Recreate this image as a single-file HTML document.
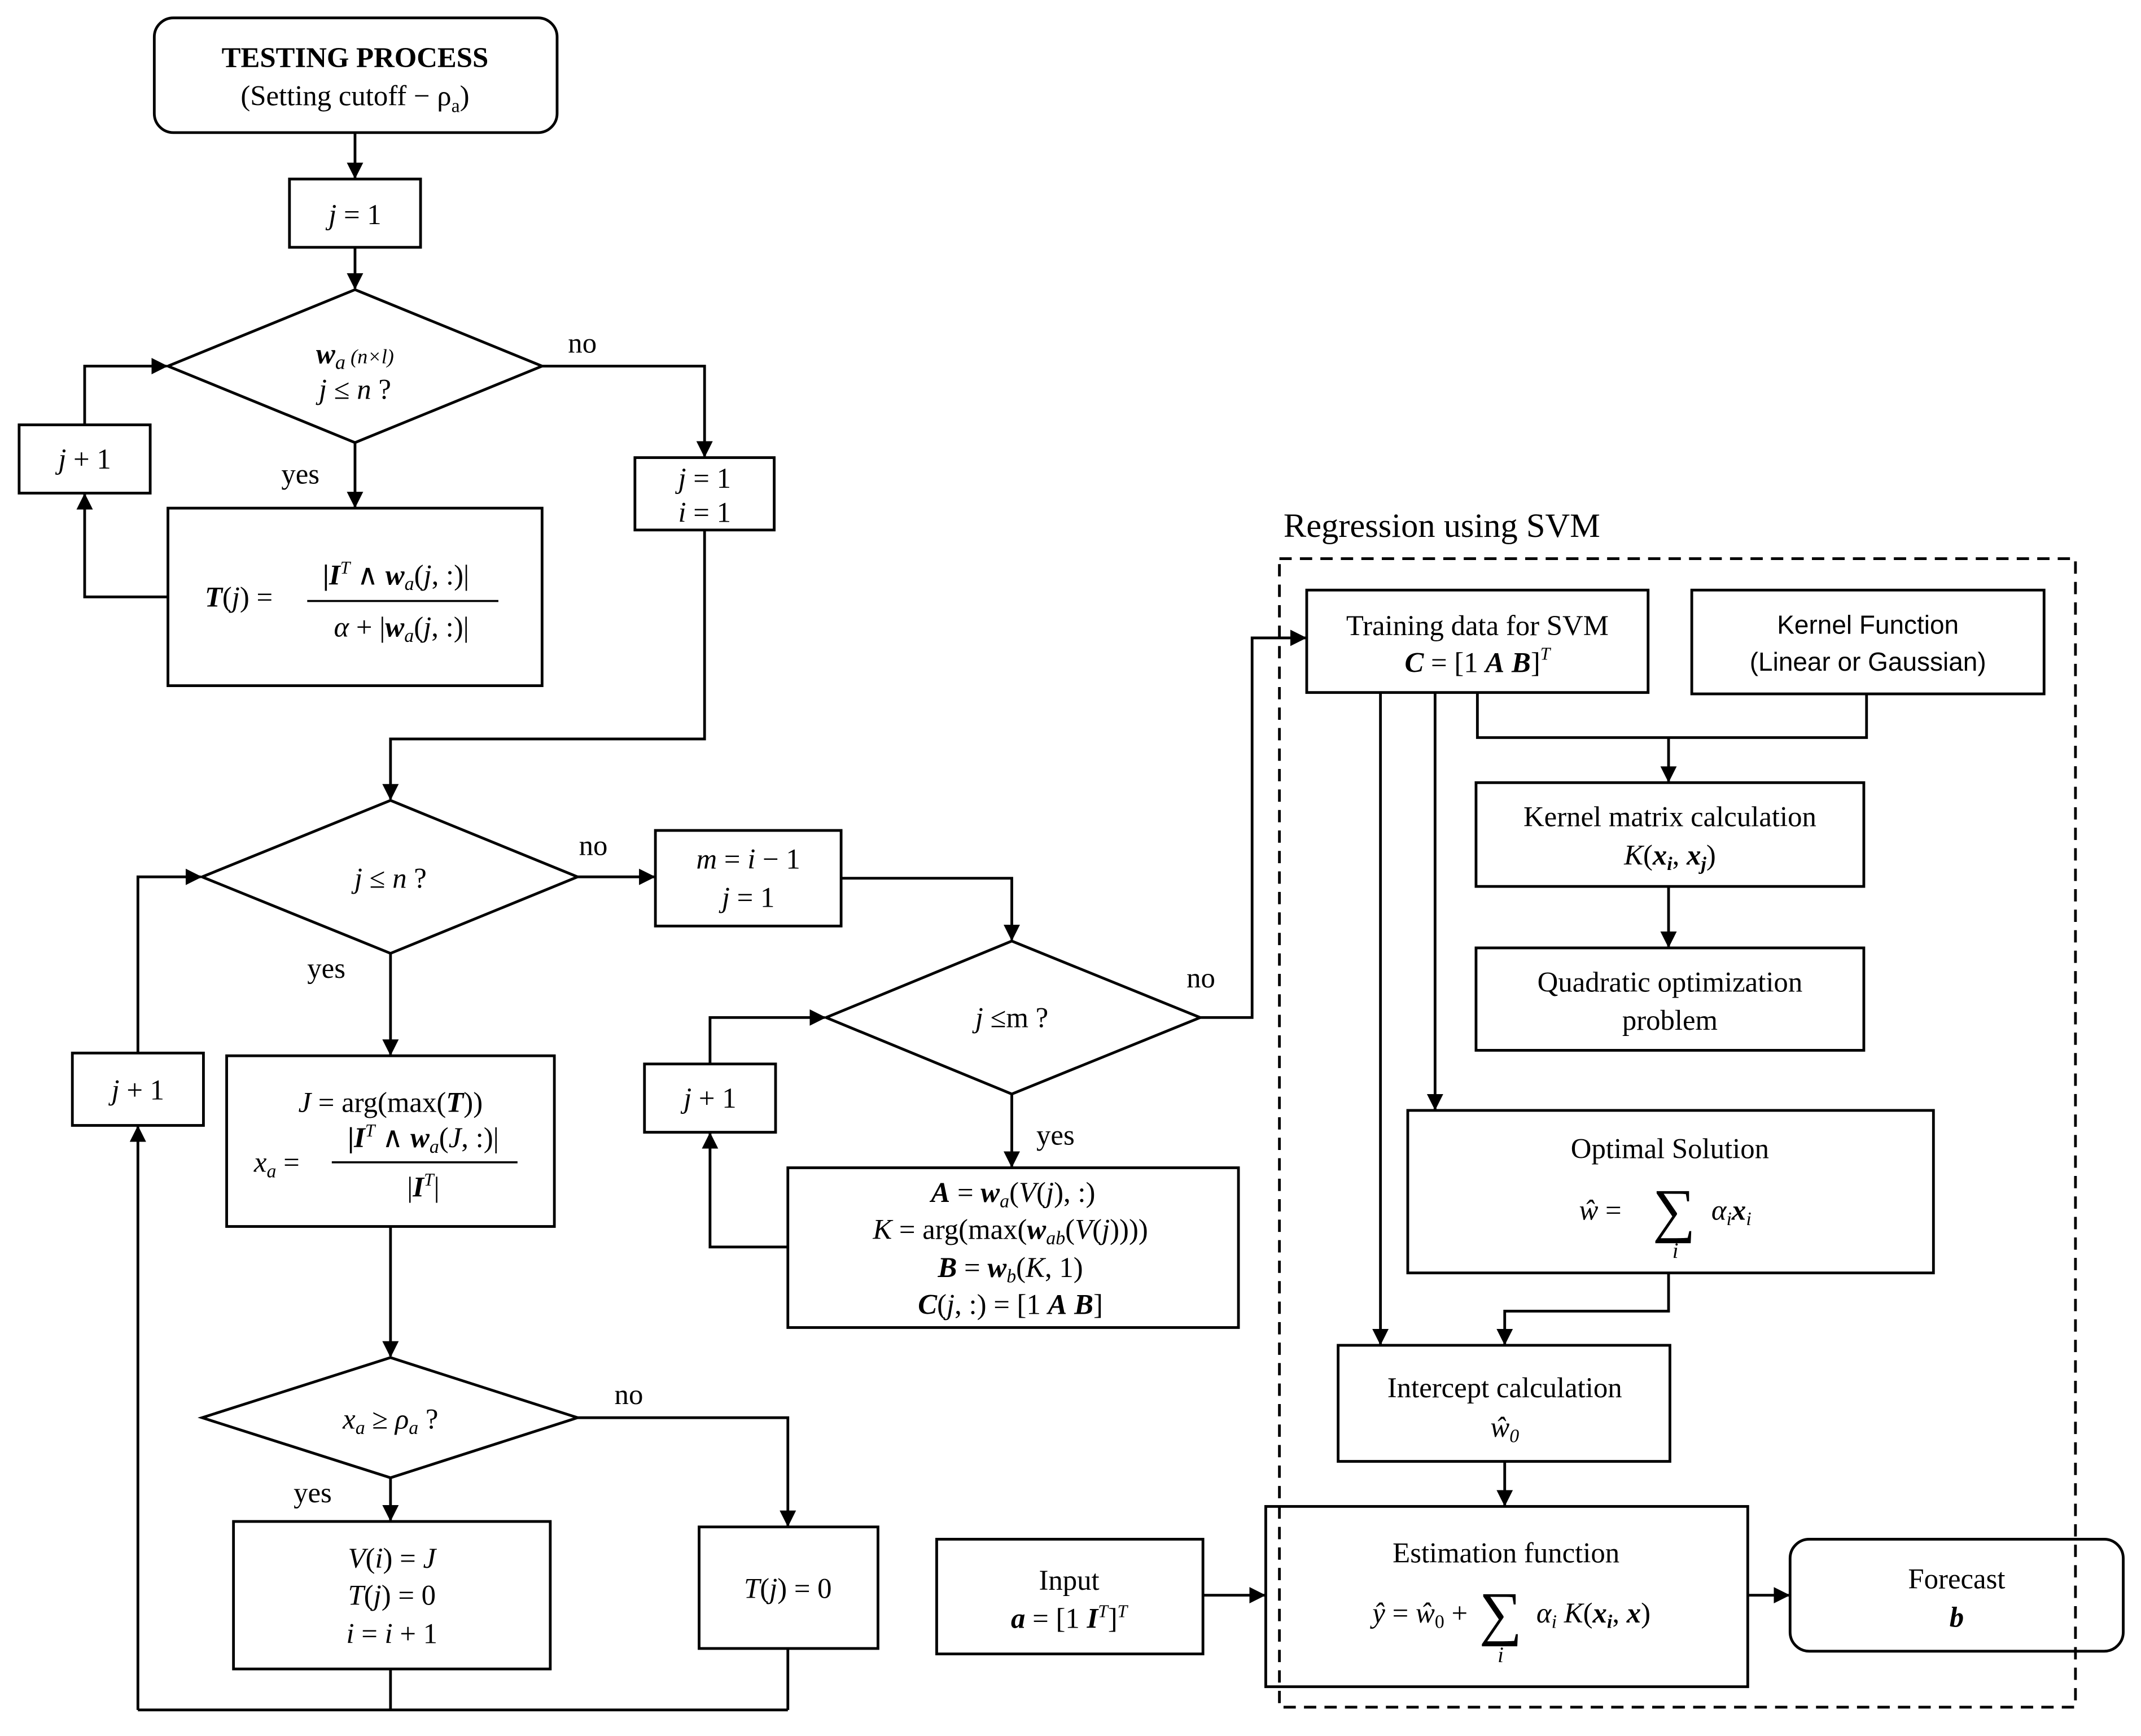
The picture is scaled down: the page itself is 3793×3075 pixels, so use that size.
<!DOCTYPE html>
<html><head><meta charset="utf-8"><style>
html,body{margin:0;padding:0;background:#fff;}
svg{display:block;}
text{font-family:"Liberation Serif","DejaVu Serif",serif;font-size:21px;fill:#000;}
.s{font-family:"Liberation Sans","DejaVu Sans",sans-serif;font-size:19px;}
.i{font-style:italic;}
.b{font-weight:bold;}
.sum{font-size:44px;}
.sub{font-size:16px;}
</style></head><body>
<svg width="3793" height="3075" viewBox="0 0 1568 1271" xmlns="http://www.w3.org/2000/svg">
<defs><marker id="a" markerWidth="12" markerHeight="12" refX="11" refY="6" orient="auto" markerUnits="userSpaceOnUse"><path d="M0,0 L12,6 L0,12 z" fill="#000"/></marker></defs>
<g fill="none" stroke="#000" stroke-width="2">
<rect x="113" y="13" width="295" height="84" rx="14"/>
<rect x="212" y="131" width="96" height="50"/>
<polygon points="123,268 260,212 397,268 260,324"/>
<rect x="14" y="311" width="96" height="50"/>
<rect x="123" y="372" width="274" height="130"/>
<rect x="465" y="335" width="102" height="53"/>
<polygon points="148,642 286,586 423,642 286,698"/>
<rect x="480" y="608" width="136" height="70"/>
<polygon points="605,745 741,689 879,745 741,801"/>
<rect x="472" y="779" width="96" height="50"/>
<rect x="577" y="855" width="330" height="117"/>
<rect x="166" y="773" width="240" height="125"/>
<rect x="53" y="771" width="96" height="53"/>
<polygon points="148,1038 286,994 423,1038 286,1082"/>
<rect x="171" y="1114" width="232" height="108"/>
<rect x="512" y="1118" width="131" height="89"/>
<rect x="937" y="409" width="583" height="841" stroke-dasharray="9,6"/>
<rect x="957" y="432" width="250" height="75"/>
<rect x="1239" y="432" width="258" height="76"/>
<rect x="1081" y="573" width="284" height="76"/>
<rect x="1081" y="694" width="284" height="75"/>
<rect x="1031" y="813" width="385" height="119"/>
<rect x="980" y="985" width="243" height="85"/>
<rect x="927" y="1103" width="353" height="132"/>
<rect x="686" y="1127" width="195" height="84"/>
<rect x="1311" y="1127" width="244" height="82" rx="14"/>
</g>
<g fill="none" stroke="#000" stroke-width="2" marker-end="url(#a)">
<path d="M260,97 V130"/>
<path d="M260,181 V211"/>
<path d="M397,268 H516 V334"/>
<path d="M62,311 V268 H122"/>
<path d="M260,324 V371"/>
<path d="M123,437 H62 V362"/>
<path d="M516,388 V541 H286 V585"/>
<path d="M423,642 H479"/>
<path d="M616,643 H741 V688"/>
<path d="M879,745 H917 V467 H956"/>
<path d="M520,779 V745 H604"/>
<path d="M741,801 V854"/>
<path d="M577,913 H520 V830"/>
<path d="M286,698 V772"/>
<path d="M101,771 V642 H147"/>
<path d="M286,898 V993"/>
<path d="M423,1038 H577 V1117"/>
<path d="M286,1082 V1113"/>
<path d="M101,1252 V825"/>
<path d="M1082,507 V540 H1367 V508 M1222,540 V572"/>
<path d="M1222,649 V693"/>
<path d="M1051,507 V812"/>
<path d="M1011,507 V984"/>
<path d="M1222,932 V960 H1102 V984"/>
<path d="M1102,1070 V1102"/>
<path d="M881,1168 H926"/>
<path d="M1280,1168 H1310"/>
</g>
<path d="M286,1222 V1252 M577,1207 V1252 M101,1252 H577" fill="none" stroke="#000" stroke-width="2"/>
<g text-anchor="middle">
<text x="260" y="49" class="b">TESTING PROCESS</text>
<text x="260" y="77">(Setting cutoff − ρ<tspan font-size="14" dy="5">a</tspan><tspan dy="-5">)</tspan></text>
<text x="260" y="164"><tspan class="i">j</tspan> = 1</text>
<text x="260" y="266"><tspan class="b i">w</tspan><tspan class="i" font-size="15" dy="4">a</tspan><tspan class="i" font-size="15" dy="-4"> (n×l)</tspan></text>
<text x="260" y="292"><tspan class="i">j</tspan> ≤ <tspan class="i">n</tspan>  ?</text>
<text x="62" y="343"><tspan class="i">j</tspan> + 1</text>
<text x="290" y="428"><tspan class="b">|<tspan class="i">I</tspan></tspan><tspan font-size="13" dy="-8" class="i">T</tspan><tspan dy="8"> ∧ </tspan><tspan class="b i">w</tspan><tspan font-size="14" class="i" dy="4">a</tspan><tspan dy="-4">(<tspan class="i">j</tspan>, :)|</tspan></text>
<text x="294" y="466"><tspan class="i">α</tspan> + |<tspan class="b i">w</tspan><tspan font-size="14" class="i" dy="4">a</tspan><tspan dy="-4">(<tspan class="i">j</tspan>, :)|</tspan></text>
<text x="516" y="357"><tspan class="i">j</tspan> = 1</text>
<text x="516" y="382"><tspan class="i">i</tspan> = 1</text>
<text x="286" y="650"><tspan class="i">j</tspan> ≤ <tspan class="i">n</tspan> ?</text>
<text x="548" y="636"><tspan class="i">m</tspan> = <tspan class="i">i</tspan> − 1</text>
<text x="548" y="664"><tspan class="i">j</tspan> = 1</text>
<text x="741" y="752"><tspan class="i">j</tspan> ≤m  ?</text>
<text x="520" y="811"><tspan class="i">j</tspan> + 1</text>
<text x="101" y="805"><tspan class="i">j</tspan> + 1</text>
<text x="742" y="880"><tspan class="b i">A</tspan> = <tspan class="b i">w</tspan><tspan font-size="14" class="i" dy="4">a</tspan><tspan dy="-4">(<tspan class="i">V</tspan>(<tspan class="i">j</tspan>), :)</tspan></text>
<text x="740" y="907"><tspan class="i">K</tspan> = arg(max(<tspan class="b i">w</tspan><tspan font-size="14" class="i" dy="4">ab</tspan><tspan dy="-4">(<tspan class="i">V</tspan>(<tspan class="i">j</tspan>))))</tspan></text>
<text x="740" y="935"><tspan class="b i">B</tspan> = <tspan class="b i">w</tspan><tspan font-size="14" class="i" dy="4">b</tspan><tspan dy="-4">(<tspan class="i">K</tspan>, 1)</tspan></text>
<text x="740" y="962"><tspan class="b i">C</tspan>(<tspan class="i">j</tspan>, :) = [1  <tspan class="b i">A</tspan>  <tspan class="b i">B</tspan>]</text>
<text x="286" y="814"><tspan class="i">J</tspan> = arg(max(<tspan class="b i">T</tspan>))</text>
<text x="310" y="840"><tspan class="b">|<tspan class="i">I</tspan></tspan><tspan font-size="13" dy="-8" class="i">T</tspan><tspan dy="8"> ∧ </tspan><tspan class="b i">w</tspan><tspan font-size="14" class="i" dy="4">a</tspan><tspan dy="-4">(<tspan class="i">J</tspan>, :)|</tspan></text>
<text x="310" y="876">|<tspan class="b i">I</tspan><tspan font-size="13" dy="-8" class="i">T</tspan><tspan dy="8">|</tspan></text>
<text x="286" y="1046"><tspan class="i">x</tspan><tspan font-size="14" class="i" dy="4">a</tspan><tspan dy="-4"> ≥ </tspan><tspan class="i">ρ</tspan><tspan font-size="14" class="i" dy="4">a</tspan><tspan dy="-4"> ?</tspan></text>
<text x="287" y="1148"><tspan class="i">V</tspan>(<tspan class="i">i</tspan>) = <tspan class="i">J</tspan></text>
<text x="287" y="1175"><tspan class="i">T</tspan>(<tspan class="i">j</tspan>) = 0</text>
<text x="287" y="1203"><tspan class="i">i</tspan> = <tspan class="i">i</tspan> + 1</text>
<text x="577" y="1170"><tspan class="i">T</tspan>(<tspan class="i">j</tspan>) = 0</text>
<text x="1082" y="465">Training data for SVM</text>
<text x="1082" y="492"><tspan class="b i">C</tspan> = [1  <tspan class="b i">A</tspan>  <tspan class="b i">B</tspan>]<tspan font-size="13" dy="-9" class="i">T</tspan></text>
<text x="1368" y="464" class="s">Kernel Function</text>
<text x="1368" y="491" class="s">(Linear or Gaussian)</text>
<text x="1223" y="605">Kernel matrix calculation</text>
<text x="1223" y="633"><tspan class="i">K</tspan>(<tspan class="b i">x</tspan><tspan font-size="14" class="i b" dy="4">i</tspan><tspan dy="-4">, </tspan><tspan class="b i">x</tspan><tspan font-size="14" class="i b" dy="4">j</tspan><tspan dy="-4">)</tspan></text>
<text x="1223" y="726">Quadratic optimization</text>
<text x="1223" y="754">problem</text>
<text x="1223" y="848">Optimal Solution</text>
<text x="1172" y="893"><tspan class="i">ŵ</tspan> = </text>
<text x="1226" y="901" class="sum">∑</text>
<text x="1227" y="921" class="sub i">i</text>
<text x="1268" y="893"><tspan class="i">α</tspan><tspan font-size="14" class="i" dy="4">i</tspan><tspan class="b i" dy="-4">x</tspan><tspan font-size="14" class="i" dy="4">i</tspan></text>
<text x="1102" y="1023">Intercept calculation</text>
<text x="1102" y="1052" class="i">ŵ<tspan font-size="14" dy="4">0</tspan></text>
<text x="1103" y="1144">Estimation function</text>
<text x="1040" y="1188"><tspan class="i">ŷ</tspan> = <tspan class="i">ŵ</tspan><tspan font-size="14" dy="4">0</tspan><tspan dy="-4"> +</tspan></text>
<text x="1099" y="1196" class="sum">∑</text>
<text x="1099" y="1217" class="sub i">i</text>
<text x="1167" y="1188"><tspan class="i">α</tspan><tspan font-size="14" class="i" dy="4">i</tspan><tspan dy="-4"> </tspan><tspan class="i">K</tspan>(<tspan class="b i">x</tspan><tspan font-size="14" class="i b" dy="4">i</tspan><tspan dy="-4">, </tspan><tspan class="b i">x</tspan>)</text>
<text x="783" y="1164">Input</text>
<text x="783" y="1192"><tspan class="b i">a</tspan> = [1  <tspan class="b i">I</tspan><tspan font-size="13" dy="-8" class="i">T</tspan><tspan dy="8">]</tspan><tspan font-size="13" dy="-8" class="i">T</tspan></text>
<text x="1433" y="1163">Forecast</text>
<text x="1433" y="1191" class="b i">b</text>
</g>
<line x1="225" y1="440" x2="365" y2="440" stroke="#000" stroke-width="1.5"/>
<line x1="243" y1="851" x2="379" y2="851" stroke="#000" stroke-width="1.5"/>
<text x="150" y="444"><tspan class="b i">T</tspan>(<tspan class="i">j</tspan>) =</text>
<text x="186" y="858"><tspan class="i">x</tspan><tspan font-size="14" class="i" dy="4">a</tspan><tspan dy="-4"> =</tspan></text>
<text x="416" y="258">no</text>
<text x="206" y="354">yes</text>
<text x="424" y="626">no</text>
<text x="225" y="716">yes</text>
<text x="869" y="723">no</text>
<text x="759" y="838">yes</text>
<text x="450" y="1028">no</text>
<text x="215" y="1100">yes</text>
<text x="940" y="393" style="font-size:25px">Regression using SVM</text>
</svg>
</body></html>
